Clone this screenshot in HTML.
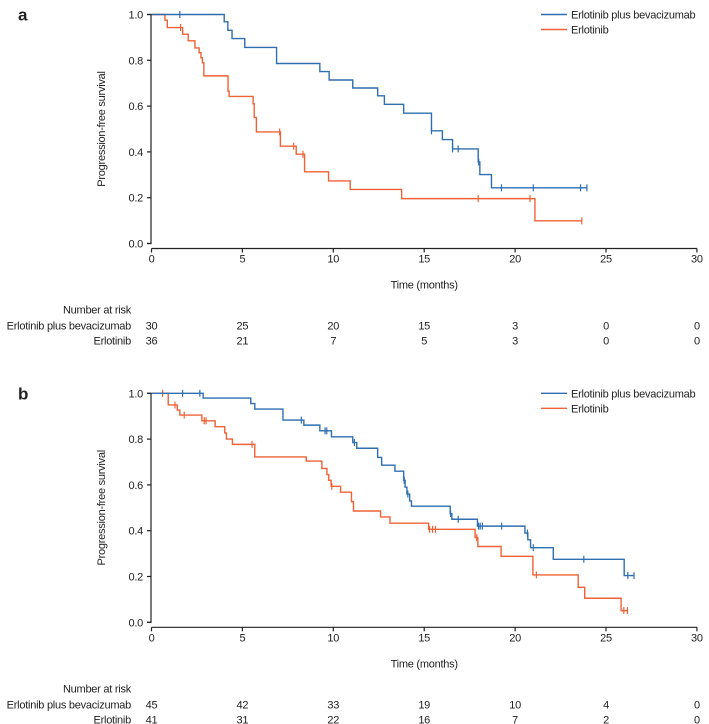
<!DOCTYPE html>
<html><head><meta charset="utf-8"><style>
html,body{margin:0;padding:0;background:#fff;}
svg{display:block;font-family:"Liberation Sans",Arial,sans-serif;}
text{fill:#222;font-size:11px;letter-spacing:-0.25px;}
text.plabel{font-size:17px;font-weight:bold;letter-spacing:0;}
</style></head><body>
<svg id="chart" width="709" height="724" viewBox="0 0 709 724"></svg>
<script>
// ---- data ----
const xTicks = [0,5,10,15,20,25,30];
const yTicks = [0,0.2,0.4,0.6,0.8,1.0];
const seriesNames = ["Erlotinib plus bevacizumab","Erlotinib"];
// Panel a
const aBlueT = [0,4.0,4.2,4.43,5.13,6.88,9.26,9.77,11.07,12.44,12.81,13.87,15.4,16.0,16.56,17.97,18.06,18.7];
const aBlueS = [1,0.968,0.931,0.895,0.856,0.786,0.751,0.714,0.679,0.645,0.608,0.569,0.492,0.454,0.413,0.356,0.301,0.243];
const aBlueEnd = 23.95;
const aBlueCens = [1.56,15.4,16.56,16.87,18.0,19.25,21.0,23.6,23.95];
const aOrT = [0,0.74,0.87,1.71,2.02,2.39,2.62,2.72,2.8,2.88,4.21,4.27,5.59,5.65,5.77,7.09,7.96,8.42,9.74,10.93,13.76,21.09];
const aOrS = [1,0.975,0.943,0.914,0.885,0.854,0.833,0.811,0.789,0.732,0.665,0.642,0.61,0.55,0.487,0.425,0.39,0.313,0.273,0.236,0.196,0.099];
const aOrEnd = 23.67;
const aOrCens = [1.6,7.05,7.82,8.33,17.97,20.82,23.67];
const aRiskBlue = [30,25,20,15,3,0,0];
const aRiskOr = [36,21,7,5,3,0,0];
// Panel b
const bBlueT = [0,2.84,5.46,5.68,7.23,8.38,9.26,9.9,11.07,11.29,12.44,12.66,13.39,13.87,13.95,14.05,14.2,14.3,16.43,16.52,17.93,20.54,20.7,20.85,22.1,26.0];
const bBlueS = [1,0.979,0.955,0.931,0.883,0.861,0.836,0.81,0.785,0.76,0.72,0.686,0.66,0.62,0.59,0.56,0.53,0.507,0.475,0.45,0.42,0.39,0.36,0.326,0.275,0.204];
const bBlueEnd = 26.54;
const bBlueCens = [1.71,2.66,8.24,9.55,9.64,11.16,13.9,14.1,16.45,16.87,17.99,18.08,18.2,19.26,20.68,21.0,23.78,26.2,26.54];
const bOrT = [0,0.92,1.42,1.56,2.77,3.5,4.03,4.12,4.45,5.68,8.51,9.37,9.65,9.75,9.88,10.4,11.0,11.11,12.6,13.12,15.24,17.8,17.95,19.23,20.98,23.47,23.83,25.83];
const bOrS = [1,0.949,0.927,0.905,0.88,0.854,0.827,0.80,0.777,0.722,0.704,0.672,0.645,0.62,0.594,0.568,0.527,0.486,0.46,0.433,0.406,0.37,0.331,0.288,0.207,0.153,0.105,0.051];
const bOrEnd = 26.18;
const bOrCens = [0.61,1.29,1.8,2.9,3.0,5.53,9.92,15.3,15.46,15.62,17.89,21.17,25.98,26.18];
const bRiskBlue = [45,42,33,19,10,4,0];
const bRiskOr = [41,31,22,16,7,2,0];

const NS="http://www.w3.org/2000/svg";
const svg=document.getElementById('chart');
const BLUE="#2f6fb0", ORANGE="#ef6236";
function mk(tag,attrs,parent){const e=document.createElementNS(NS,tag);for(const k in attrs)e.setAttribute(k,attrs[k]);(parent||svg).appendChild(e);return e;}
function txt(s,x,y,anchor,parent,extra){const t=mk('text',Object.assign({x:x,y:y,'text-anchor':anchor||'start'},extra||{}),parent);t.textContent=s;return t;}

function panel(label,top,bt,bs,bEnd,bc,ot,os,oEnd,oc,rb,ro){
  const g=mk('g',{});
  
  
  const x0=151.5, xs=18.18, y1=top, yscale=229;
  const X=v=>x0+v*xs, Y=v=>y1+(1-v)*yscale;
  const yb=Y(0);
  const pl=txt(label,18,top+6,'start',g,{'class':'plabel'});
  
  
  const ya=mk('path',{d:`M147 ${Y(1)}H151V${yb}H147`,stroke:'#222','stroke-width':1.2,fill:'none'},g);
  
  
  yTicks.forEach(v=>{
    mk('line',{x1:147,x2:151,y1:Y(v),y2:Y(v),stroke:'#222','stroke-width':1.2},g);
    const t=txt(v.toFixed(1),143,Y(v)+4,'end',g);
    
    
  });
  const xa=mk('line',{x1:X(0),x2:X(30),y1:yb+5,y2:yb+5,stroke:'#222','stroke-width':1.2},g);
  
  
  xTicks.forEach(v=>{
    mk('line',{x1:X(v),x2:X(v),y1:yb+5,y2:yb+9,stroke:'#222','stroke-width':1.2},g);
    const t=txt(String(v),X(v),yb+19,'middle',g);
    
    
  });
  const xt=txt('Time (months)',X(15),yb+45,'middle',g);
  
  
  const yt=txt('Progression-free survival',0,0,'middle',g,{transform:`translate(105 ${(Y(1)+yb)/2}) rotate(-90)`});
  
  
  function curve(T,S,end,C,col,name){
    let d=`M${X(T[0])} ${Y(S[0])}`;
    for(let i=1;i<T.length;i++){d+=`H${X(T[i])}V${Y(S[i])}`;}
    d+=`H${X(end)}`;
    const p=mk('path',{d:d,stroke:col,'stroke-width':1.4,fill:'none'},g);
    
    
    C.forEach(c=>{
      let s=S[0];for(let i=0;i<T.length;i++){if(T[i]<=c)s=S[i];}
      const m=mk('line',{x1:X(c),x2:X(c),y1:Y(s)-3.5,y2:Y(s)+3.5,stroke:col,'stroke-width':1.2},g);
      
      
    });
  }
  curve(ot,os,oEnd,oc,ORANGE,'erlotinib');
  curve(bt,bs,bEnd,bc,BLUE,'erlotinib-bevacizumab');
  [[BLUE,seriesNames[0],0],[ORANGE,seriesNames[1],15]].forEach(([c,n,dy])=>{
    const lg=mk('g',{},g);
    
    
    mk('line',{x1:541,x2:567,y1:top+dy,y2:top+dy,stroke:c,'stroke-width':1.4},lg);
    txt(n,571,top+dy+4,'start',lg);
  });
  const rt=mk('g',{},g);
  
  
  txt('Number at risk',131,yb+70,'end',rt);
  txt(seriesNames[0],131,yb+86,'end',rt);
  txt(seriesNames[1],131,yb+101,'end',rt);
  xTicks.forEach((v,i)=>{
    txt(String(rb[i]),X(v),yb+86,'middle',rt);
    txt(String(ro[i]),X(v),yb+101,'middle',rt);
  });
}
panel('a',14.5,aBlueT,aBlueS,aBlueEnd,aBlueCens,aOrT,aOrS,aOrEnd,aOrCens,aRiskBlue,aRiskOr);
panel('b',393.3,bBlueT,bBlueS,bBlueEnd,bBlueCens,bOrT,bOrS,bOrEnd,bOrCens,bRiskBlue,bRiskOr);
</script>
</body></html>
